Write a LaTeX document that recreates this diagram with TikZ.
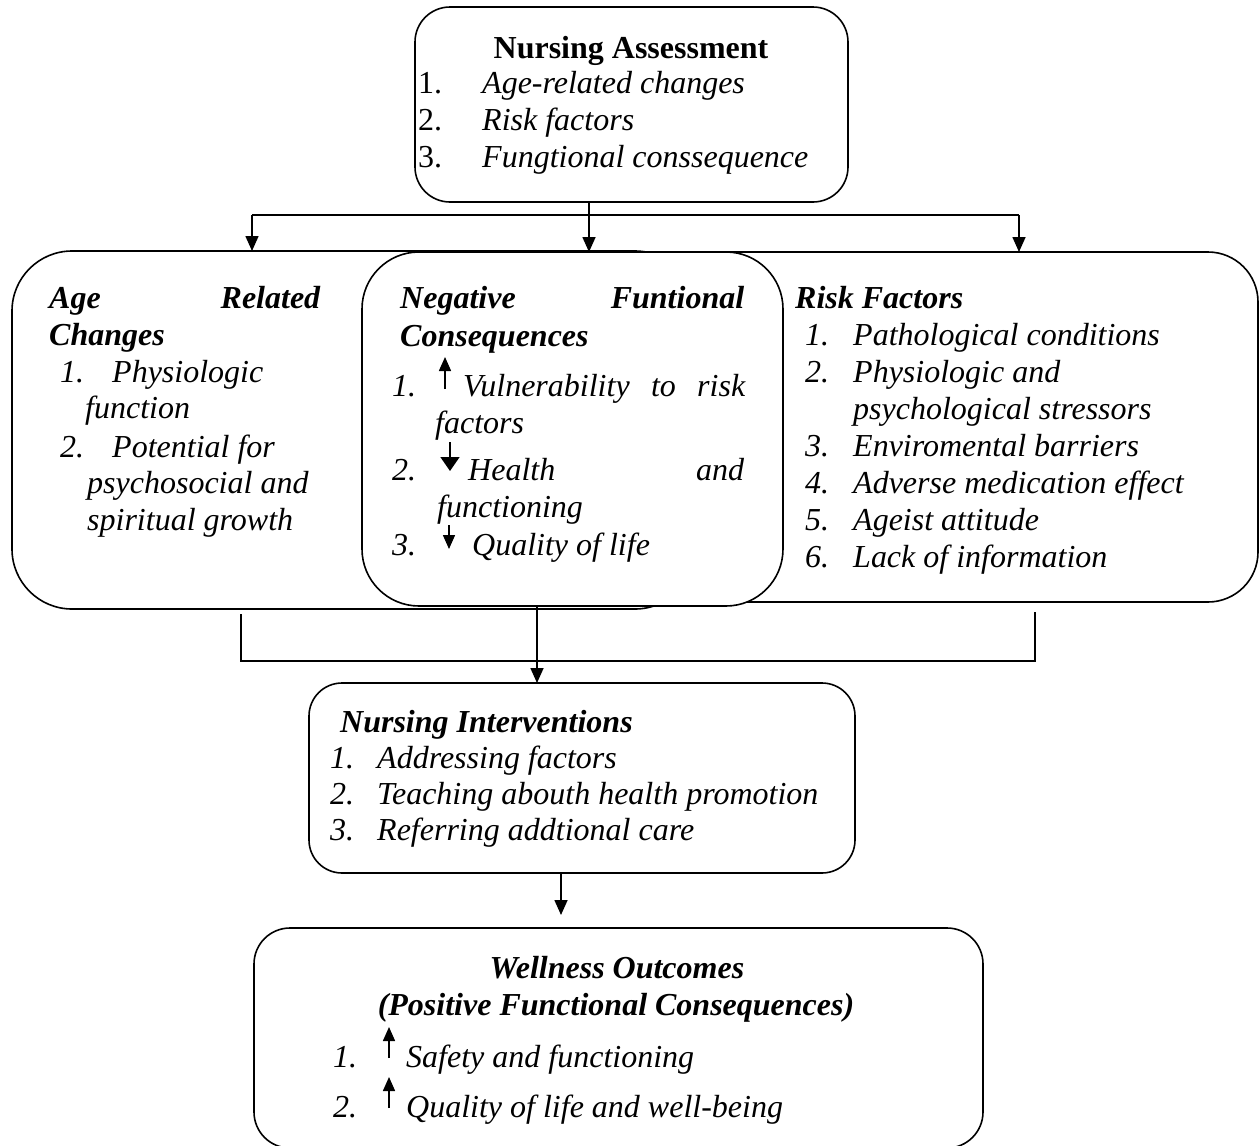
\documentclass[tikz,border=0pt]{standalone}
\usepackage{fontspec}
\setmainfont{Liberation Serif}
\usetikzlibrary{arrows.meta}
\newcommand{\bigf}{\fontsize{32}{37}\selectfont}
\begin{document}
\begin{tikzpicture}[x=1pt,y=-1pt,
  box/.style={draw, line width=1.6pt, rectangle, inner sep=0pt, outer sep=0pt, fill=white},
  it/.style={anchor=base west, inner sep=0pt, font=\bigf\itshape},
  rm/.style={anchor=base west, inner sep=0pt, font=\bigf},
  bi/.style={anchor=base west, inner sep=0pt, font=\bigf\bfseries\itshape},
  conn/.style={line width=1.6pt},
  arr/.style={conn, -{Triangle[length=15pt,width=13pt]}},
  sarr/.style={line width=1.5pt, -{Triangle[length=14pt,width=12pt]}},
  barr/.style={line width=1.5pt, -{Triangle[length=14pt,width=19pt]}}
]
\useasboundingbox (0,0) rectangle (1259,1146);
\clip (0,0) rectangle (1259,1146);

% ---------- top box ----------
\node[box, rounded corners=35pt, minimum width=433pt, minimum height=195pt] (top) at (631.5,104.5) {};
\node[anchor=base, inner sep=0pt, font=\bigf\bfseries] (ta) at (631,58) {Nursing Assessment};
\node[rm] (tn1) at (418,93) {1.};
\node[it] (tt1) at (482,93) {Age-related changes};
\node[rm] (tn2) at (418,130) {2.};
\node[it] (tt2) at (482,130) {Risk factors};
\node[rm] (tn3) at (418,167) {3.};
\node[it] (tt3) at (482,167) {Fungtional conssequence};

% ---------- three middle boxes ----------
\node[box, rounded corners=60pt, minimum width=683pt, minimum height=358pt] (left) at (353.5,430) {};
\node[box, rounded corners=50pt, minimum width=658pt, minimum height=350pt] (right) at (929,427) {};
\node[box, rounded corners=57pt, minimum width=421pt, minimum height=354pt] (mid) at (572.5,429) {};

% left box text
\node[bi] (l1) at (49,308) {\hbox to 271pt{Age\hfill Related}};
\node[bi] (l2) at (49,345) {Changes};
\node[it] (l3n) at (60,382) {1.};
\node[it] (l3) at (112,382) {Physiologic};
\node[it] (l4) at (85,418) {function};
\node[it] (l5n) at (60,457) {2.};
\node[it] (l5) at (112,457) {Potential for};
\node[it] (l6) at (87,493) {psychosocial and};
\node[it] (l7) at (87,530) {spiritual growth};

% middle box text
\node[bi] (m1) at (400,308) {\hbox to 344pt{Negative\hfill Funtional}};
\node[bi] (m2) at (400,346) {Consequences};
\node[it] (m3n) at (392,396) {1.};
\draw[sarr] (445,389) -- (445,357);
\node[it] (m3) at (463,396) {\hbox to 282pt{Vulnerability\hfill to\hfill risk}};
\node[it] (m4) at (435,433) {factors};
\node[it] (m5n) at (392,480) {2.};
\draw[barr] (450,442) -- (450,471);
\node[it] (m5) at (468,480) {\hbox to 276pt{Health\hfill and}};
\node[it] (m6) at (437,517) {functioning};
\node[it] (m7n) at (392,555) {3.};
\draw[sarr] (449,525) -- (449,549);
\node[it] (m7) at (472,555) {Quality of life};

% right box text
\node[bi] (r0) at (795,308) {Risk Factors};
\node[it] (r1n) at (805,345) {1.};
\node[it] (r1) at (853,345) {Pathological conditions};
\node[it] (r2n) at (805,382) {2.};
\node[it] (r2) at (853,382) {Physiologic and};
\node[it] (r2b) at (853,419) {psychological stressors};
\node[it] (r3n) at (805,456) {3.};
\node[it] (r3) at (853,456) {Enviromental barriers};
\node[it] (r4n) at (805,493) {4.};
\node[it] (r4) at (853,493) {Adverse medication effect};
\node[it] (r5n) at (805,530) {5.};
\node[it] (r5) at (853,530) {Ageist attitude};
\node[it] (r6n) at (805,567) {6.};
\node[it] (r6) at (853,567) {Lack of information};

% ---------- interventions ----------
\node[box, rounded corners=33pt, minimum width=546pt, minimum height=190pt] (interv) at (582,778) {};
\node[bi] (i0) at (340,732) {Nursing Interventions};
\node[it] (i1n) at (330,768) {1.};
\node[it] (i1) at (377,768) {Addressing factors};
\node[it] (i2n) at (330,804) {2.};
\node[it] (i2) at (377,804) {Teaching abouth health promotion};
\node[it] (i3n) at (330,840) {3.};
\node[it] (i3) at (377,840) {Referring addtional care};

% ---------- wellness ----------
\node[box, rounded corners=36pt, minimum width=729pt, minimum height=220pt] (well) at (618.5,1038) {};
\node[anchor=base, inner sep=0pt, font=\bigf\bfseries\itshape] (w0) at (617,978) {Wellness Outcomes};
\node[anchor=base, inner sep=0pt, font=\bigf\bfseries\itshape] (w1) at (616,1015) {(Positive Functional Consequences)};
\node[it] (w2n) at (333,1067) {1.};
\draw[sarr] (389,1058) -- (389,1027);
\node[it] (w2) at (406,1067) {Safety and functioning};
\node[it] (w3n) at (333,1117) {2.};
\draw[sarr] (389,1108) -- (389,1077);
\node[it] (w3) at (406,1117) {Quality of life and well-being};

% ---------- connectors ----------
\coordinate (hl) at (252,215);
\coordinate (hr) at (1019,215);
\coordinate (cx) at (589,0);
\draw[conn] (hl) -- (hr);
\draw[arr] (hl) -- (hl |- left.north);
\draw[arr] (hr) -- (hr |- right.north);
\draw[arr] (top.south -| cx) -- (mid.north -| cx);

\coordinate (bl) at (241,614);
\coordinate (bl2) at (241,661);
\coordinate (br2) at (1035,661);
\coordinate (br) at (1035,612);
\draw[conn] (bl) -- (bl2) -- (br2) -- (br);
\coordinate (ax) at (537,0);
\draw[arr] (mid.south -| ax) -- (interv.north -| ax);
\coordinate (wtip) at (561,915);
\draw[arr] (interv.south -| wtip) -- (wtip);
\end{tikzpicture}
\end{document}
